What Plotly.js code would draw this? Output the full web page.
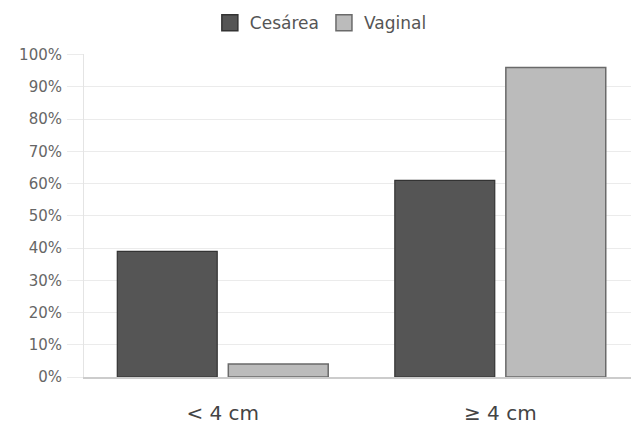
<!DOCTYPE html>
<html>
<head>
<meta charset="utf-8">
<script src="https://cdn.plot.ly/plotly-3.0.1.min.js"></script>
<style>html,body{margin:0;padding:0;background:#fff;overflow:hidden}#chart{width:631px;height:423px}</style>
</head>
<body>
<div id="chart"></div>
<script>
var categories = ['< 4 cm', '≥ 4 cm'];
var seriesNames = ['Cesárea', 'Vaginal'];
var cesarea = [39, 61];
var vaginal = [4, 96];
var yTicks = [0, 10, 20, 30, 40, 50, 60, 70, 80, 90, 100];
var yTickText = ['0%', '10%', '20%', '30%', '40%', '50%', '60%', '70%', '80%', '90%', '100%'];

var dark = '#555555', darkLine = '#333333';
var light = '#bbbbbb', lightLine = '#6a6a6a';
var fontFam = '"DejaVu Sans", Verdana, sans-serif';

var traces = [
  {type: 'bar', name: seriesNames[0], x: categories, y: cesarea, showlegend: false,
   marker: {color: dark, line: {color: darkLine, width: 1.2}}, hoverinfo: 'skip'},
  {type: 'bar', name: seriesNames[1], x: categories, y: vaginal, showlegend: false,
   marker: {color: light, line: {color: lightLine, width: 1.5}}, hoverinfo: 'skip'},
  {type: 'scatter', mode: 'markers', name: seriesNames[0], x: [null], y: [null],
   marker: {symbol: 'square', size: 20, color: dark, line: {color: darkLine, width: 1.5}}},
  {type: 'scatter', mode: 'markers', name: seriesNames[1], x: [null], y: [null],
   marker: {symbol: 'square', size: 20, color: light, line: {color: lightLine, width: 1.5}}}
];

var layout = {
  width: 631, height: 423,
  margin: {l: 84, r: 0, t: 54, b: 46},
  paper_bgcolor: '#ffffff', plot_bgcolor: '#ffffff',
  font: {family: fontFam, color: '#555'},
  barmode: 'group', bargap: 0.2, bargroupgap: 0.1,
  showlegend: true,
  legend: {orientation: 'h', x: 0.433, xanchor: 'center', y: 0.945, yanchor: 'middle',
           yref: 'container', font: {family: fontFam, size: 17, color: '#555'}, itemclick: false},
  xaxis: {type: 'category', range: [-0.5, 1.471], showgrid: false,
          showline: true, linecolor: '#cccccc', linewidth: 1.5,
          ticks: '', ticklabelstandoff: 17,
          tickfont: {family: fontFam, size: 20, color: '#444'}, fixedrange: true},
  yaxis: {range: [0, 100.2], tickmode: 'array', tickvals: yTicks, ticktext: yTickText,
          showgrid: true, gridcolor: '#ebebeb', gridwidth: 1,
          ticks: 'outside', ticklen: 16, tickcolor: '#ebebeb', tickwidth: 1,
          ticklabelstandoff: 2,
          showline: true, linecolor: '#e4e4e4', linewidth: 1,
          zeroline: false, tickfont: {family: fontFam, size: 15, color: '#666'}, fixedrange: true}
};

Plotly.newPlot('chart', traces, layout, {displayModeBar: false, staticPlot: true});
</script>
</body>
</html>
